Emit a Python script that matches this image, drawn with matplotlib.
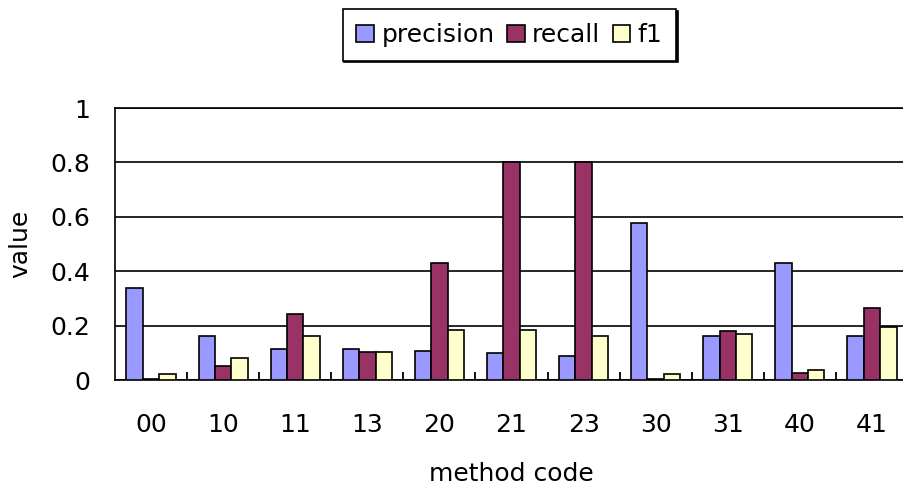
import matplotlib
matplotlib.use("Agg")
import matplotlib.pyplot as plt
import numpy as np

# Scores per method code
methods = ["00", "10", "11", "13", "20", "21", "23", "30", "31", "40", "41"]
precision = [0.34, 0.16, 0.115, 0.115, 0.107, 0.099, 0.09, 0.578, 0.16, 0.43, 0.16]
recall = [0.005, 0.052, 0.244, 0.104, 0.43, 0.80, 0.80, 0.005, 0.18, 0.025, 0.264]
f1 = [0.021, 0.082, 0.161, 0.104, 0.185, 0.185, 0.16, 0.023, 0.168, 0.035, 0.196]
series_names = ["precision", "recall", "f1"]
y_ticks = [0, 0.2, 0.4, 0.6, 0.8, 1.0]
y_tick_labels = ["0", "0.2", "0.4", "0.6", "0.8", "1"]

colors = ["#9999FF", "#993366", "#FFFFCC"]

plt.rcParams["font.family"] = ["DejaVu Sans"]
plt.rcParams["font.size"] = 18

W, H = 904, 492
fig = plt.figure(figsize=(W / 100, H / 100), dpi=100)
ax = fig.add_axes([115 / W, (H - 380) / H, (908 - 115) / W, 272 / H])

x = np.arange(len(methods))
bw = 0.227
for k, (vals, name) in enumerate(zip([precision, recall, f1], series_names)):
    ax.bar(x + (k - 1) * bw, vals, width=bw, color=colors[k],
           edgecolor="black", linewidth=1.2, label=name, zorder=3)

ax.set_xlim(-0.5, len(methods) - 0.5)
ax.set_ylim(0, 1)
ax.set_yticks(y_ticks)
ax.set_yticklabels(y_tick_labels)
ax.set_xticks(x)
ax.set_xticklabels(methods)
ax.set_xticks(x[:-1] + 0.5, minor=True)
ax.tick_params(axis="x", which="major", length=0, pad=24)
ax.tick_params(axis="x", which="minor", direction="in", length=6, width=1.3)
ax.tick_params(axis="y", length=0, pad=18)

ax.yaxis.grid(True, color="black", linewidth=1.2, zorder=0)
ax.set_axisbelow(True)
ax.spines["right"].set_visible(False)
for side in ["left", "bottom", "top"]:
    ax.spines[side].set_color("black")
    ax.spines[side].set_linewidth(1.2)

ax.set_xlabel("method code", labelpad=18)
ax.set_ylabel("value", labelpad=13)

leg = fig.legend(loc="center", bbox_to_anchor=(509.5 / W, 1 - 35 / H),
                 ncol=3, frameon=True, fancybox=False, edgecolor="black",
                 handlelength=0.7, handleheight=0.7, handletextpad=0.3,
                 columnspacing=0.5, borderpad=0.55, borderaxespad=0,
                 shadow={"color": "black", "alpha": 1, "ox": 1.2, "oy": -1.2})
leg.get_frame().set_linewidth(1.2)

fig.savefig("out.png", dpi=100)
